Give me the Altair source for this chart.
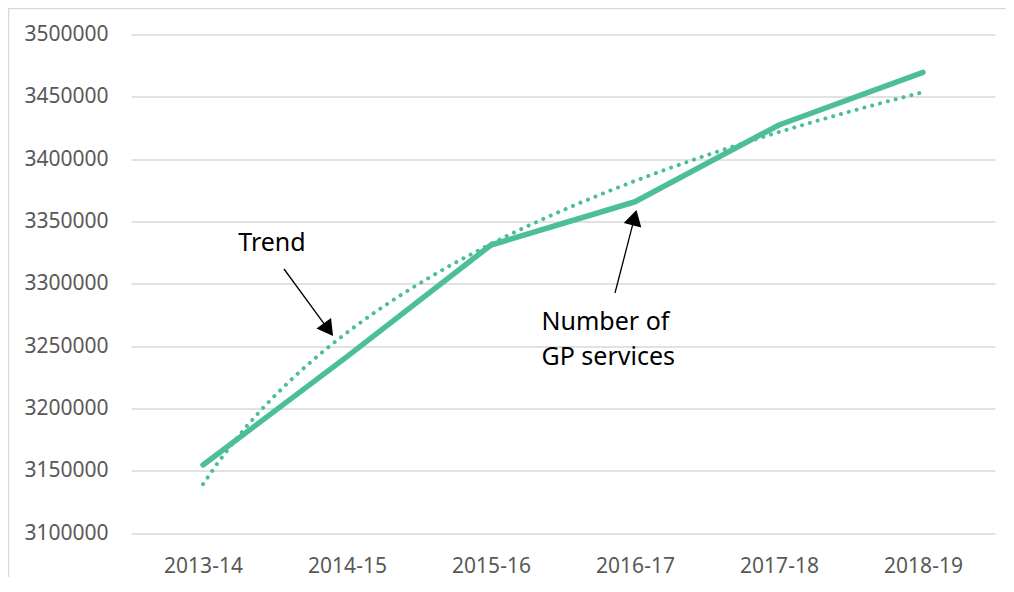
import altair as alt
import pandas as pd

# ---- data ----
years = ["2013-14", "2014-15", "2015-16", "2016-17", "2017-18", "2018-19"]
year_index = [1, 2, 3, 4, 5, 6]
gp_services = [3154600, 3241500, 3331100, 3365800, 3427400, 3469600]

y_ticks = [3100000, 3150000, 3200000, 3250000, 3300000, 3350000, 3400000, 3450000, 3500000]

# annotation positions (data units)
arrow_x = [1.5625, 3.8611]
arrow_y = [3311835, 3292577]
arrow_x2 = [1.8708, 3.9965]
arrow_y2 = [3263209, 3353079]
arrow_angle = [143.8, 14.5]

label_text = ["Trend", "Number of", "GP services"]
label_x = [1.479, 3.3507, 3.3507]
label_y = [3332682, 3269307, 3241624]
label_align = ["center", "left", "left"]

GREEN = "#4CBF99"
GRID = "#D9D9D9"
FONT = "Noto Sans"

df = pd.DataFrame({"idx": year_index, "year": years, "value": gp_services})
arrows = pd.DataFrame({"x": arrow_x, "y": arrow_y, "x2": arrow_x2, "y2": arrow_y2, "angle": arrow_angle})
labels = pd.DataFrame({"text": label_text, "x": label_x, "y": label_y, "align": label_align})

label_expr = "[" + ",".join("'" + y + "'" for y in years) + "][datum.value - 1]"

x_scale = alt.Scale(domain=[0.5, 6.5], nice=False, zero=False)
y_scale = alt.Scale(domain=[3100000, 3500000], nice=False, zero=False)

x_axis = alt.Axis(values=year_index, labelExpr=label_expr, grid=False, ticks=False, domain=False,
                  labelFontSize=21, labelFont=FONT, labelColor="#595959", labelPadding=22, title=None)
y_axis = alt.Axis(values=y_ticks, format="d", grid=True, gridColor=GRID, gridWidth=1.5,
                  ticks=False, domain=False, labelFontSize=21, labelFont=FONT,
                  labelColor="#595959", labelPadding=23, title=None)

base = alt.Chart(df)

line = base.mark_line(color=GREEN, strokeWidth=5.5, strokeCap="round", strokeJoin="round").encode(
    x=alt.X("idx:Q", scale=x_scale, axis=x_axis),
    y=alt.Y("value:Q", scale=y_scale, axis=y_axis),
)

trend = base.transform_regression("idx", "value", method="log").mark_line(
    color=GREEN, strokeWidth=4, strokeDash=[0.1, 8], strokeCap="round"
).encode(
    x=alt.X("idx:Q", scale=x_scale),
    y=alt.Y("value:Q", scale=y_scale),
)

arrow_lines = alt.Chart(arrows).mark_rule(color="black", strokeWidth=1.3).encode(
    x=alt.X("x:Q", scale=x_scale), y=alt.Y("y:Q", scale=y_scale),
    x2="x2:Q", y2="y2:Q",
)

arrow_heads = alt.Chart(arrows).mark_point(shape="triangle-up", filled=True, color="black",
                                           size=330, opacity=1).encode(
    x=alt.X("x2:Q", scale=x_scale), y=alt.Y("y2:Q", scale=y_scale),
    angle=alt.Angle("angle:Q", scale=None),
)

text_center = alt.Chart(labels).transform_filter("datum.align == 'center'").mark_text(
    align="center", baseline="middle", fontSize=25, font=FONT, color="black"
).encode(x=alt.X("x:Q", scale=x_scale), y=alt.Y("y:Q", scale=y_scale), text="text:N")

text_left = alt.Chart(labels).transform_filter("datum.align == 'left'").mark_text(
    align="left", baseline="middle", fontSize=25, font=FONT, color="black"
).encode(x=alt.X("x:Q", scale=x_scale), y=alt.Y("y:Q", scale=y_scale), text="text:N")

border = alt.Chart(alt.Data(values=[{}])).mark_rect(
    fill=None, stroke=GRID, strokeWidth=1.5
).encode(x=alt.value(-122.5), x2=alt.value(920), y=alt.value(-26), y2=alt.value(620))

chart = alt.layer(line, trend, arrow_lines, arrow_heads, text_center, text_left, border).properties(
    width=864, height=498.5,
    autosize=alt.AutoSizeParams(type="none"),
    padding={"left": 123, "top": 26.5, "right": 11, "bottom": 44},
).configure_view(stroke=None)

chart.save("out.html", embed_options={"renderer": "svg", "actions": False})
